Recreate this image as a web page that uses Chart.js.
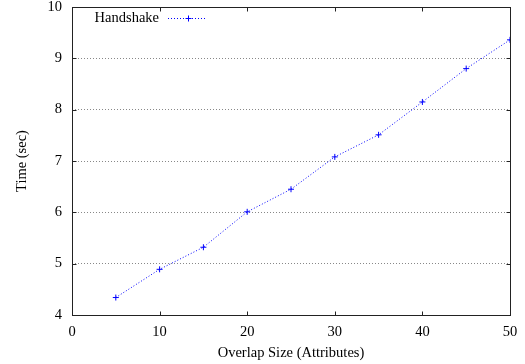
<!DOCTYPE html>
<html>
<head>
    <script src="https://cdn.jsdelivr.net/npm/chart.js@4.4.1/dist/chart.umd.min.js"></script>
    <style>
        body { margin: 0; background: white; }
        #wrap { width: 525px; height: 364px; position: relative; }
    </style>
</head>
<body>
    <div id="wrap"><canvas id="chart"></canvas></div>
    <script>
        // data
        const overlapSizes = [5, 10, 15, 20, 25, 30, 35, 40, 45, 50]
        const handshakeTimes = [4.34, 4.89, 5.32, 6.01, 6.45, 7.08, 7.51, 8.15, 8.80, 9.36]
        const seriesLabel = 'Handshake'
        const xTitle = 'Overlap Size (Attributes)'
        const yTitle = 'Time (sec)'

        const FONT = 'Liberation Serif'
        const FSIZE = 14.5
        const BLUE = '#0000ff'

        // gnuplot-like frame with inward ticks on all sides, plus key in top-left
        const framePlugin = {
            id: 'frame',
            afterDraw(chart) {
                const ctx = chart.ctx
                const a = chart.chartArea
                const xs = chart.scales.x, ys = chart.scales.y
                const L = Math.round(a.left) + 0.5, R = Math.round(a.right) + 0.5
                const T = Math.round(a.top) + 0.5, B = Math.round(a.bottom) + 0.5
                ctx.save()
                ctx.strokeStyle = '#222'
                ctx.lineWidth = 1
                ctx.setLineDash([])
                ctx.strokeRect(L, T, R - L, B - T)
                ctx.beginPath()
                xs.ticks.forEach(t => {
                    const px = Math.round(xs.getPixelForValue(t.value)) + 0.5
                    ctx.moveTo(px, B); ctx.lineTo(px, B - 4)
                    ctx.moveTo(px, T); ctx.lineTo(px, T + 4)
                })
                ys.ticks.forEach(t => {
                    const py = Math.round(ys.getPixelForValue(t.value)) + 0.5
                    ctx.moveTo(L, py); ctx.lineTo(L + 4, py)
                    ctx.moveTo(R, py); ctx.lineTo(R - 4, py)
                })
                ctx.stroke()

                // key
                ctx.font = FSIZE + 'px "' + FONT + '"'
                ctx.fillStyle = '#000'
                ctx.textBaseline = 'middle'
                ctx.textAlign = 'right'
                const ky = 18
                ctx.fillText(seriesLabel, a.left + 87, ky)
                const x0 = a.left + 96, x1 = a.left + 135
                ctx.strokeStyle = BLUE
                ctx.setLineDash([1, 2])
                ctx.beginPath()
                ctx.moveTo(x0, ky + 0.5); ctx.lineTo(x1, ky + 0.5)
                ctx.stroke()
                ctx.setLineDash([])
                const cx = Math.round((x0 + x1) / 2)
                ctx.beginPath()
                ctx.moveTo(cx - 2.5, ky + 0.5); ctx.lineTo(cx + 3.5, ky + 0.5)
                ctx.moveTo(cx + 0.5, ky - 2.5); ctx.lineTo(cx + 0.5, ky + 3.5)
                ctx.stroke()
                ctx.restore()
            }
        }

        const ctx = document.getElementById('chart').getContext('2d')
        const chart = new Chart(ctx, {
            type: 'scatter',
            data: {
                datasets: [{
                    label: seriesLabel,
                    data: overlapSizes.map((x, i) => ({ x: x, y: handshakeTimes[i] })),
                    showLine: true,
                    borderColor: BLUE,
                    borderWidth: 1,
                    borderDash: [1, 2],
                    pointStyle: 'cross',
                    pointRadius: 3,
                    pointBorderColor: BLUE,
                    pointBorderWidth: 1,
                    pointBackgroundColor: BLUE,
                    tension: 0,
                }]
            },
            options: {
                responsive: true,
                maintainAspectRatio: false,
                animation: false,
                layout: { padding: { top: 7, right: 15, left: 0, bottom: 0 } },
                plugins: {
                    legend: { display: false },
                    tooltip: { enabled: false },
                },
                scales: {
                    x: {
                        type: 'linear',
                        min: 0, max: 50,
                        ticks: { stepSize: 10, color: '#000', padding: 8, maxRotation: 0,
                            font: { family: FONT, size: FSIZE } },
                        grid: { display: false, drawTicks: false },
                        border: { display: false },
                        title: { display: true, text: xTitle, color: '#000', padding: { top: 2, bottom: 2 },
                            font: { family: FONT, size: FSIZE } },
                        afterFit(scale) {
                            scale.height = 49
                            scale.paddingLeft = 0
                            scale.paddingRight = 0
                        },
                    },
                    y: {
                        min: 4, max: 10,
                        ticks: { stepSize: 1, color: '#000', padding: 10,
                            font: { family: FONT, size: FSIZE } },
                        grid: {
                            drawTicks: false,
                            color: c => (c.tick.value > 4 && c.tick.value < 10) ? '#888' : 'rgba(0,0,0,0)',
                            lineWidth: 1,
                        },
                        border: { display: false, dash: [1, 2] },
                        title: { display: true, text: yTitle, color: '#000', padding: { top: 13, bottom: 0 },
                            font: { family: FONT, size: FSIZE } },
                        afterFit(scale) {
                            scale.width = 72
                            scale.paddingTop = 0
                            scale.paddingBottom = 0
                        },
                    }
                }
            },
            plugins: [framePlugin]
        })
    </script>
</body>
</html>
